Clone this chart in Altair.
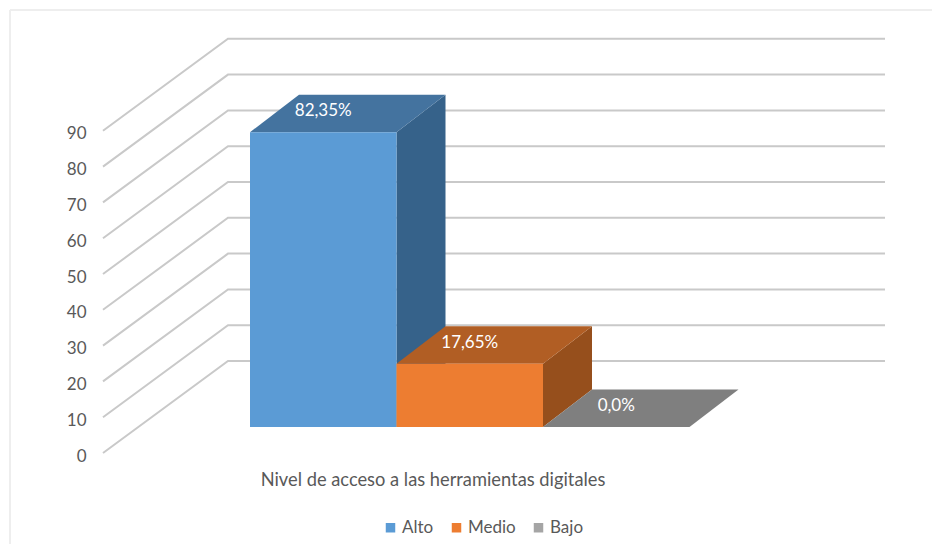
import altair as alt
import pandas as pd

categories = ["Alto", "Medio", "Bajo"]
values = [82.35, 17.65, 0.0]
value_labels = ["82,35%", "17,65%", "0,0%"]
front_colors = ["#5B9BD5", "#ED7D31", "#A5A5A5"]
top_colors = ["#44739F", "#B15E24", "#7F7F7F"]
side_colors = ["#36628A", "#964F1C", "#7F7F7F"]
ticks = [0, 10, 20, 30, 40, 50, 60, 70, 80, 90]
axis_title = "Nivel de acceso a las herramientas digitales"

FONT = "Lato"
TEXT = "#595959"
GRID = "#C9C9C9"
W, H = 924, 536

# oblique projection, in chart units (category widths / value units)
PX_X, PX_Y = 146.5, 3.58
AXIS_X = -147 / PX_X
WALL_DX, WALL_DY = 125 / PX_X, 92 / PX_Y
WALL_END = 635 / PX_X
BAR_LIFT = 26 / PX_Y
BAR_DX, BAR_DY = 49 / PX_X, 37.5 / PX_Y

xs = alt.Scale(domain=[-242 / PX_X, 682 / PX_X], zero=False, nice=False)
ys = alt.Scale(domain=[-91 / PX_Y, 445 / PX_Y], zero=False, nice=False)

x_axis = alt.Axis(
    title=axis_title, labels=False, ticks=False, domain=False, grid=False,
    titleFont=FONT, titleFontSize=18.3, titleFontWeight="normal", titleColor=TEXT,
    titleX=424.5, titleY=472 - H, titleAlign="center", titleBaseline="middle")
y_axis = alt.Axis(
    title=None, values=ticks, ticks=False, domain=False, grid=False, offset=-78,
    labelPadding=0, labelOffset=3, labelFont=FONT, labelFontSize=17, labelColor=TEXT)

grid_rows = []
for t in ticks:
    grid_rows += [
        {"t": t, "o": 0, "x": AXIS_X, "y": t},
        {"t": t, "o": 1, "x": AXIS_X + WALL_DX, "y": t + WALL_DY},
        {"t": t, "o": 2, "x": WALL_END, "y": t + WALL_DY},
    ]

front_rows, top_rows, side_rows, label_rows = [], [], [], []
for i, (c, v) in enumerate(zip(categories, values)):
    front_rows.append({"cat": c, "x": i, "x2": i + 1, "y": BAR_LIFT, "y2": BAR_LIFT + v})
    top = BAR_LIFT + v
    top_rows += [
        {"cat": c, "col": top_colors[i], "y": top, "x": i, "x2": i + 1},
        {"cat": c, "col": top_colors[i], "y": top + BAR_DY, "x": i + BAR_DX, "x2": i + 1 + BAR_DX},
    ]
    if v > 0:
        side_rows += [
            {"cat": c, "col": side_colors[i], "x": i + 1, "y": BAR_LIFT, "y2": top},
            {"cat": c, "col": side_colors[i], "x": i + 1 + BAR_DX, "y": BAR_LIFT + BAR_DY, "y2": top + BAR_DY},
        ]
    label_rows.append({"x": i + 0.5, "y": top + BAR_DY / 2 + 0.6, "label": value_labels[i]})

X = alt.X("x:Q", scale=xs, axis=x_axis)
Y = alt.Y("y:Q", scale=ys, axis=y_axis)

border_v = alt.Chart(pd.DataFrame({"a": [0]})).mark_rule(color="#EEEEEE", strokeWidth=2).encode(
    x=alt.value(2), y=alt.value(2), y2=alt.value(H))
border_h = alt.Chart(pd.DataFrame({"a": [0]})).mark_rule(color="#EEEEEE", strokeWidth=2).encode(
    x=alt.value(2), x2=alt.value(W), y=alt.value(2))

grid = alt.Chart(pd.DataFrame(grid_rows)).mark_line(color=GRID, strokeWidth=2).encode(
    x=X, y=Y, detail="t:N", order="o:Q")

sides = alt.Chart(pd.DataFrame(side_rows)).mark_area().encode(
    x=X, y=Y, y2="y2:Q", detail="cat:N",
    color=alt.Color("col:N", scale=None, legend=None))

tops = alt.Chart(pd.DataFrame(top_rows)).mark_area(orient="horizontal").encode(
    y=Y, x=X, x2="x2:Q", detail="cat:N",
    color=alt.Color("col:N", scale=None, legend=None))

fronts = alt.Chart(pd.DataFrame(front_rows)).mark_rect().encode(
    x=X, x2="x2:Q", y=Y, y2="y2:Q",
    color=alt.Color("cat:N", scale=alt.Scale(domain=categories, range=front_colors),
                    legend=alt.Legend(
                        title=None, orient="none", direction="horizontal",
                        legendX=374, legendY=511, symbolType="square", symbolSize=90,
                        symbolStrokeWidth=0, labelFont=FONT, labelFontSize=17,
                        labelColor=TEXT, columnPadding=14, labelOffset=3)))

labels = alt.Chart(pd.DataFrame(label_rows)).mark_text(
    color="white", font=FONT, fontSize=17, baseline="middle", align="center"
).encode(x=X, y=Y, text="label:N")

chart = alt.layer(border_v, border_h, grid, sides, tops, fronts, labels).resolve_scale(
    color="independent"
).properties(width=W, height=H, padding=0, autosize="none", background="white"
).configure_view(stroke=None)

chart.save("out.html", embed_options={"renderer": "svg", "actions": False})
